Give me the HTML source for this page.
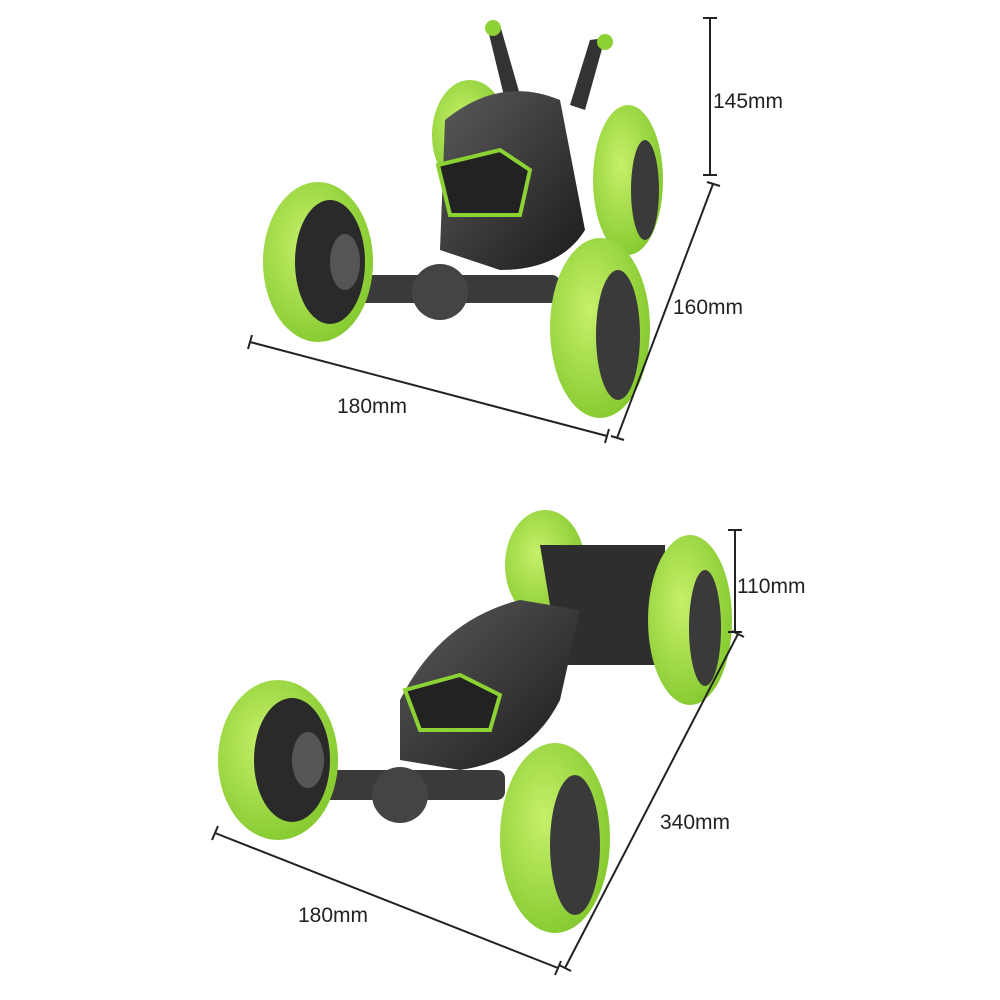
<!DOCTYPE html>
<html><head><meta charset="utf-8"><style>
html,body{margin:0;padding:0;background:#fff;}
svg{display:block;}
text{font-family:"Liberation Sans",sans-serif;font-size:21px;fill:#222;}
</style></head><body>
<svg width="1000" height="1000" viewBox="0 0 1000 1000" xmlns="http://www.w3.org/2000/svg">
<defs>
<radialGradient id="g" cx="40%" cy="40%" r="70%"><stop offset="0" stop-color="#c6f06a"/><stop offset="1" stop-color="#7fc62a"/></radialGradient>
<linearGradient id="b" x1="0" y1="0" x2="1" y2="1"><stop offset="0" stop-color="#5a5a5a"/><stop offset="1" stop-color="#1b1b1b"/></linearGradient>
</defs>

<!-- TOP CAR -->
<ellipse cx="470" cy="135" rx="38" ry="55" fill="url(#g)"/>
<path d="M488 30 L500 25 L520 95 L505 100Z" fill="#333"/>
<path d="M590 40 L605 38 L585 110 L570 105Z" fill="#333"/>
<circle cx="493" cy="28" r="8" fill="#8cd234"/>
<circle cx="605" cy="42" r="8" fill="#8cd234"/>
<ellipse cx="628" cy="180" rx="35" ry="75" fill="url(#g)"/>
<ellipse cx="645" cy="190" rx="14" ry="50" fill="#3a3a3a"/>
<path d="M445 120 Q500 75 560 100 L585 230 Q560 270 500 270 L440 250 Z" fill="url(#b)"/>
<path d="M438 165 L500 150 L530 170 L520 215 L450 215 Z" fill="#222" stroke="#8cd234" stroke-width="4"/>
<rect x="330" y="275" width="230" height="28" rx="8" fill="#3a3a3a"/>
<circle cx="440" cy="292" r="28" fill="#444"/>
<ellipse cx="318" cy="262" rx="55" ry="80" fill="url(#g)"/>
<ellipse cx="330" cy="262" rx="35" ry="62" fill="#2a2a2a"/>
<ellipse cx="345" cy="262" rx="15" ry="28" fill="#555"/>
<ellipse cx="600" cy="328" rx="50" ry="90" fill="url(#g)"/>
<ellipse cx="618" cy="335" rx="22" ry="65" fill="#3a3a3a"/>

<!-- BOTTOM CAR -->
<ellipse cx="545" cy="565" rx="40" ry="55" fill="url(#g)"/>
<path d="M540 545 L665 545 L665 665 L560 665 Z" fill="#2e2e2e"/>
<ellipse cx="690" cy="620" rx="42" ry="85" fill="url(#g)"/>
<ellipse cx="705" cy="628" rx="16" ry="58" fill="#3a3a3a"/>
<path d="M400 700 Q440 620 520 600 L580 610 L560 700 Q530 760 460 770 L400 760 Z" fill="url(#b)"/>
<path d="M405 690 L460 675 L500 695 L490 730 L420 730 Z" fill="#222" stroke="#8cd234" stroke-width="4"/>
<rect x="295" y="770" width="210" height="30" rx="8" fill="#3a3a3a"/>
<circle cx="400" cy="795" r="28" fill="#444"/>
<ellipse cx="278" cy="760" rx="60" ry="80" fill="url(#g)"/>
<ellipse cx="292" cy="760" rx="38" ry="62" fill="#2a2a2a"/>
<ellipse cx="308" cy="760" rx="16" ry="28" fill="#555"/>
<ellipse cx="555" cy="838" rx="55" ry="95" fill="url(#g)"/>
<ellipse cx="575" cy="845" rx="25" ry="70" fill="#3a3a3a"/>

<!-- DIMENSIONS -->
<g stroke="#222" stroke-width="2" fill="none">
<line x1="710" y1="18" x2="710" y2="175"/><line x1="703" y1="18" x2="717" y2="18"/><line x1="703" y1="175" x2="717" y2="175"/>
<line x1="713" y1="184" x2="617" y2="438"/><line x1="707" y1="182" x2="720" y2="186"/><line x1="611" y1="436" x2="624" y2="440"/>
<line x1="250" y1="342" x2="607" y2="436"/><line x1="252" y1="335" x2="248" y2="349"/><line x1="609" y1="429" x2="605" y2="443"/>
<line x1="735" y1="530" x2="735" y2="632"/><line x1="728" y1="530" x2="742" y2="530"/><line x1="728" y1="632" x2="742" y2="632"/>
<line x1="738" y1="634" x2="565" y2="968"/><line x1="732" y1="631" x2="744" y2="637"/><line x1="559" y1="965" x2="571" y2="971"/>
<line x1="215" y1="833" x2="558" y2="968"/><line x1="218" y1="826" x2="212" y2="840"/><line x1="561" y1="961" x2="555" y2="975"/>
</g>
<text x="713" y="108">145mm</text>
<text x="673" y="314">160mm</text>
<text x="337" y="413">180mm</text>
<text x="737" y="593">110mm</text>
<text x="660" y="829">340mm</text>
<text x="298" y="922">180mm</text>
</svg>
</body></html>
